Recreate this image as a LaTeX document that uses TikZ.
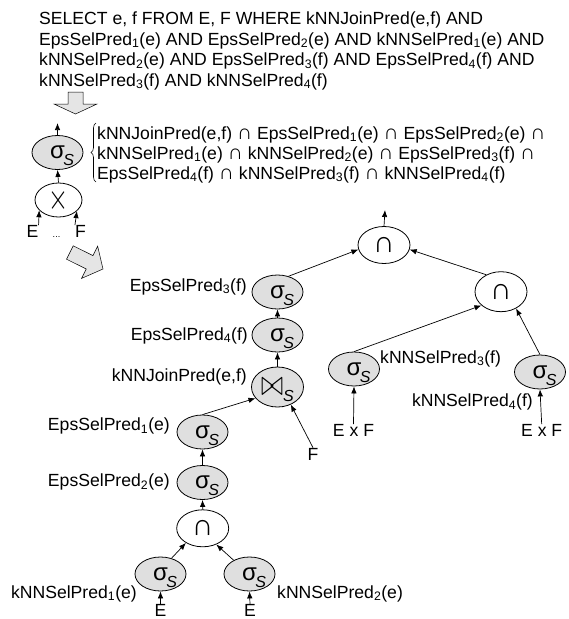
\documentclass[tikz,border=0pt]{standalone}
\usepackage{fontspec}
\setmainfont{Liberation Sans}
\usetikzlibrary{shapes.geometric,arrows.meta,decorations.pathreplacing}
\newcommand{\sub}[1]{\textsubscript{#1}}
\newcommand{\isect}{{\fontsize{21}{20}\selectfont ∩}}
\newcommand{\sigs}{σ\rlap{\kern-1.5pt\raisebox{-7pt}{\fontsize{16}{16}\selectfont\itshape S}}}
\newcommand{\joins}{\resizebox{22pt}{17pt}{$\bowtie$}\raisebox{-6pt}{\fontsize{16}{16}\selectfont\itshape S}}
\begin{document}
\begin{tikzpicture}[x=1pt,y=-1pt,
  font=\fontsize{17.6}{20.5}\selectfont,
  every node/.style={inner sep=0pt},
  sel/.style={ellipse,draw,line width=0.8pt,fill=gray!25,minimum width=51pt,minimum height=34pt,text depth=0pt,font=\fontsize{24}{24}\selectfont},
  opn/.style={ellipse,draw,line width=0.8pt,fill=white,minimum width=52pt,minimum height=37pt,font=\fontsize{30}{30}\selectfont},
  flow/.style={-{Latex[length=7pt,width=5.5pt]},line width=0.7pt},
  blk/.style={draw,fill=gray!20,line width=0.5pt}]
\useasboundingbox (0,0) rectangle (569,619);
% query and rewritten plan
\node[anchor=base west,align=left] (query) at (39,86) {SELECT e, f FROM E, F WHERE kNNJoinPred(e,f) AND\\
EpsSelPred\sub1(e) AND EpsSelPred\sub2(e) AND kNNSelPred\sub1(e) AND\\
kNNSelPred\sub2(e) AND EpsSelPred\sub3(f) AND EpsSelPred\sub4(f) AND\\
kNNSelPred\sub3(f) AND kNNSelPred\sub4(f)};
\draw[blk] (68,92) -- (83,92) -- (83,104) -- (97,104) -- (75.5,114) -- (54,104) -- (68,104) -- cycle;
\node[sel] (s0) at (57.5,152.5) {\sigs};
\node[opn,minimum width=47pt,minimum height=34pt] (x0) at (58.5,200) {\resizebox{20pt}{21pt}{$\times$}};
\coordinate (top0) at (57.5,123);
\draw[decorate,decoration={brace,amplitude=5pt},line width=0.6pt] (96,182) -- (96,123);
\node[anchor=base west,align=left,font=\fontsize{17.6}{20}\selectfont] (cond) at (97,179) {kNNJoinPred(e,f) \isect{} EpsSelPred\sub1(e) \isect{} EpsSelPred\sub2(e) \isect\\
kNNSelPred\sub1(e) \isect{} kNNSelPred\sub2(e) \isect{} EpsSelPred\sub3(f) \isect\\
EpsSelPred\sub4(f) \isect{} kNNSelPred\sub3(f) \isect{} kNNSelPred\sub4(f)};
\node[anchor=base] (e0) at (32.5,237.5) {E};
\node[anchor=base,font=\fontsize{9}{9}\selectfont] (dots) at (56.5,237.5) {...};
\node[anchor=base] (f0) at (80.5,237.5) {F};
\draw[flow] (x0.north) -- (s0.south);
\draw[flow] (s0.north) -- (top0);
\draw[flow] (e0.north east) -- (x0.208);
\draw[flow] (f0.north west) -- (x0.329);
\draw[blk] (73.25,245.8) -- (92.95,255.6) -- (97.65,246.2) -- (103,269) -- (81.55,278.4) -- (86.25,269) -- (66.55,259.2) -- cycle;
% optimized tree, left branch
\node[sel] (s3) at (277.5,292) {\sigs};
\node[sel] (s4) at (277.5,335) {\sigs};
\node[sel,minimum width=52pt,minimum height=40pt] (jn) at (277.5,387) {\joins};
\node[sel] (s1) at (202.5,432) {\sigs};
\node[sel] (s2) at (202.5,482.5) {\sigs};
\node[opn] (cap1) at (202.7,528.3) {∩};
\node[sel] (sl) at (160.5,574) {\sigs};
\node[sel] (sr) at (249.5,574) {\sigs};
\node[anchor=base east] (l3) at (247,291) {EpsSelPred\sub3(f)};
\node[anchor=base east] (l4) at (248,340) {EpsSelPred\sub4(f)};
\node[anchor=base east] (lj) at (247,381.7) {kNNJoinPred(e,f)};
\node[anchor=base east] (l1) at (170,430.5) {EpsSelPred\sub1(e)};
\node[anchor=base east] (l2) at (170,486.7) {EpsSelPred\sub2(e)};
\node[anchor=base east] (ll) at (137,598) {kNNSelPred\sub1(e)};
\node[anchor=base west] (lr) at (277,598) {kNNSelPred\sub2(e)};
\node[anchor=base] (fj) at (313,460) {F};
\node[anchor=base] (el) at (160.5,616.5) {E};
\node[anchor=base] (er) at (250,616.5) {E};
% right branch
\node[opn] (root) at (384,245) {∩};
\coordinate (top1) at (385,210);
\node[opn,minimum height=40pt] (r2) at (501,291.7) {∩};
\node[sel] (s5) at (354,369) {\sigs};
\node[sel] (s6) at (540,372) {\sigs};
\node[anchor=base west] (l5) at (380,363) {kNNSelPred\sub3(f)};
\node[anchor=base east] (l6) at (533,406.5) {kNNSelPred\sub4(f)};
\node[anchor=base] (ef5) at (353.5,436.5) {E x F};
\node[anchor=base] (ef6) at (541.7,436.5) {E x F};
\draw[flow] (root.north) -- (top1);
\draw[flow] (s3.55) -- (root.190);
\draw[flow] (r2.131) -- (root.350);
\draw[flow] (s5.north) -- (r2.215);
\draw[flow] (s6.north) -- (r2.312);
\draw[flow] (ef5.north) -- (s5.south);
\draw[flow] (ef6.north) -- (s6.south);
\draw[flow] (s4.north) -- (s3.south);
\draw[flow] (jn.north) -- (s4.south);
\draw[flow] (s1.north) -- (jn.207);
\draw[flow] (fj.north) -- (jn.307);
\draw[flow] (s2.north) -- (s1.south);
\draw[flow] (cap1.north) -- (s2.south);
\draw[flow] (sl.55) -- (cap1.221);
\draw[flow] (sr.139) -- (cap1.310);
\draw[flow] (el.north) -- (sl.south);
\draw[flow] (er.north) -- (sr.south);
\end{tikzpicture}
\end{document}
